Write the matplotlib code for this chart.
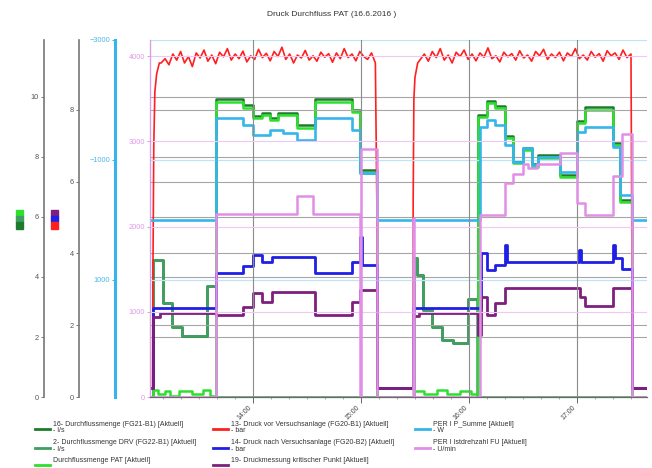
import numpy as np
import matplotlib
matplotlib.use("Agg")
import matplotlib.pyplot as plt
from matplotlib.lines import Line2D
from matplotlib.patches import Rectangle

plt.rcParams['font.family'] = ['Liberation Sans', 'DejaVu Sans']

# all times in minutes since midnight (16.6.2016)
# flow l/s
t_drv = [783.0, 784.4, 790.0, 795.0, 800.6, 814.4, 819.4, 929.5, 931.1, 934.4, 939.4,
         945.0, 951.1, 959.4, 964.4, 1058.9]
v_drv = [0.0, 4.57, 3.13, 2.33, 2.03, 3.70, 0.0, 4.63, 4.07, 2.90, 2.33,
         1.90, 1.80, 3.27, 0.0, 0.0]

t_pat = [783.0, 784.4, 787.0, 791.0, 794.0, 799.0, 806.0, 812.0, 816.0, 819.4, 834.4,
         840.0, 845.0, 849.4, 853.9, 864.4, 874.4, 895.0, 899.4, 908.9, 929.5, 935.0,
         942.0, 948.0, 955.0, 961.0, 965.0, 970.0, 974.4, 980.0, 984.4, 990.0, 995.0,
         998.3, 1010.6, 1020.0, 1024.4, 1040.0, 1043.9, 1050.6, 1058.9]
v_pat = [0.0, 0.25, 0.1, 0.2, 0.05, 0.2, 0.1, 0.25, 0.05, 9.83, 9.63,
         9.3, 9.4, 9.23, 9.4, 8.97, 9.83, 9.5, 7.47, 0.0, 0.2, 0.1,
         0.25, 0.1, 0.2, 0.1, 9.33, 9.8, 9.63, 8.63, 7.8, 8.23, 7.67,
         7.97, 7.33, 9.13, 9.57, 8.4, 6.5, 0.0, 0.0]

t_fg21 = [783.0, 784.4, 790.0, 795.0, 800.6, 814.4, 819.4, 834.4, 840.0, 845.0, 849.4,
          853.9, 864.4, 874.4, 895.0, 899.4, 908.9, 929.5, 931.1, 934.4, 939.4, 945.0,
          951.1, 959.4, 965.0, 970.0, 974.4, 980.0, 984.4, 990.0, 995.0, 998.3, 1010.6,
          1020.0, 1024.4, 1040.0, 1043.9, 1050.6, 1058.9]
v_fg21 = [0.0, 4.57, 3.13, 2.33, 2.03, 3.70, 9.92, 9.72, 9.38, 9.48, 9.31,
          9.48, 9.05, 9.92, 9.58, 7.55, 0.0, 4.63, 4.07, 2.90, 2.33, 1.90,
          1.80, 3.27, 9.41, 9.88, 9.71, 8.71, 7.88, 8.31, 7.75, 8.05, 7.41,
          9.21, 9.65, 8.48, 6.58, 0.0, 0.0]

# pressure bar
red_start_t = [783.0, 784.2, 784.5, 784.9, 785.5, 786.5, 788.0]
red_start_v = [0.25, 0.25, 4.0, 7.0, 8.5, 9.0, 9.3]
red_a = [9.30, 9.42, 9.25, 9.55, 9.38, 9.62, 9.30, 9.48, 9.20, 9.58, 9.44, 9.66, 9.35, 9.52,
         9.28, 9.60, 9.47, 9.70, 9.38, 9.55, 9.42, 9.63, 9.33, 9.50, 9.40, 9.68, 9.45, 9.57,
         9.36, 9.62, 9.48, 9.74, 9.40, 9.55, 9.30, 9.52, 9.44, 9.65, 9.38, 9.50, 9.35, 9.60,
         9.46, 9.56, 9.32, 9.58, 9.42, 9.70, 9.45, 9.55, 9.36, 9.62, 9.48, 9.40, 9.58, 9.30]
red_mid_t = [908.9, 909.3, 928.8, 929.0, 929.4, 930.0, 931.5]
red_mid_v = [5.0, 0.25, 0.25, 5.5, 8.3, 8.9, 9.3]
red_b = [9.40, 9.55, 9.35, 9.62, 9.45, 9.70, 9.38, 9.52, 9.30, 9.60, 9.48, 9.66, 9.40, 9.55,
         9.36, 9.58, 9.46, 9.72, 9.42, 9.50, 9.33, 9.60, 9.47, 9.56, 9.38, 9.64, 9.44, 9.52,
         9.35, 9.62, 9.50, 9.68, 9.40, 9.55, 9.45, 9.60, 9.36, 9.58, 9.48, 9.70, 9.42, 9.52,
         9.38, 9.62, 9.46, 9.56, 9.35, 9.64, 9.50, 9.58, 9.40, 9.66, 9.45, 9.55]
red_end_t = [1050.6, 1051.0, 1058.9]
red_end_v = [3.0, 0.22, 0.22]

t_blue = [783.0, 784.4, 819.4, 834.4, 840.0, 845.0, 850.6, 874.4, 895.0, 899.4, 900.3,
          908.9, 929.0, 966.5, 970.0, 974.4, 980.0, 981.0, 1021.0, 1022.0, 1040.0, 1041.0,
          1045.0, 1050.6, 1058.9]
v_blue = [0.25, 2.48, 3.45, 3.65, 3.96, 3.76, 3.90, 3.45, 3.76, 4.46, 3.68,
          0.25, 2.48, 4.01, 3.54, 3.68, 4.23, 3.76, 4.09, 3.76, 4.23, 3.87,
          3.57, 0.25, 0.25]

t_pur = [783.0, 784.4, 788.3, 819.4, 834.4, 840.0, 845.0, 850.6, 874.4, 895.0, 899.4,
         908.9, 929.0, 932.0, 965.0, 966.5, 970.0, 974.4, 980.0, 1021.7, 1024.4, 1040.0,
         1050.6, 1058.9]
v_pur = [0.25, 2.23, 2.34, 2.28, 2.51, 2.90, 2.65, 2.92, 2.28, 2.65, 2.98,
         0.25, 2.25, 2.34, 1.73, 2.79, 2.28, 2.62, 3.04, 2.79, 2.53, 3.04,
         0.25, 0.25]

# power W
t_w = [783.0, 819.4, 834.4, 840.0, 849.4, 856.7, 864.4, 874.4, 895.0, 899.4, 908.9,
       966.1, 970.0, 974.4, 980.0, 984.4, 990.0, 995.0, 998.3, 1010.6, 1020.0, 1024.4,
       1040.0, 1043.9, 1050.6, 1058.9]
v_w = [0, -1700, -1583, -1417, -1500, -1450, -1333, -1700, -1500, -783, 0,
       -1550, -1667, -1583, -1250, -967, -1200, -917, -1050, -800, -1467, -1550,
       -1217, -417, 0, 0]

# speed U/min
t_rpm = [783.0, 819.4, 864.4, 873.3, 899.6, 900.2, 908.9, 928.9, 929.6, 966.1, 980.0,
         984.4, 990.0, 992.8, 997.8, 1010.6, 1020.0, 1024.4, 1040.0, 1045.0, 1050.6, 1058.9]
v_rpm = [0, 2147, 2360, 2147, 0, 2910, 0, 2100, 0, 2135, 2510,
         2616, 2733, 2686, 2733, 2862, 2275, 2135, 2592, 3085, 0, 0]

hour_ticks = [14, 15, 16, 17]
hour_labels = ["14:00", "15:00", "16:00", "17:00"]

leg_labels = ["16- Durchflussmenge (FG21-B1) [Aktuell]",
              "2- Durchflussmenge DRV (FG22-B1) [Aktuell]",
              "Durchflussmenge PAT [Aktuell]",
              "13- Druck vor Versuchsanlage (FG20-B1) [Aktuell]",
              "14- Druck nach Versuchsanlage (FG20-B2) [Aktuell]",
              "19- Druckmessung kritischer Punkt [Aktuell]",
              "PER I P_Summe [Aktuell]",
              "PER I Istdrehzahl FU [Aktuell]"]
leg_units = ["- l/s", "- l/s", None, "- bar", "- bar", None, "- W", "- U/min"]

c_fg21 = '#1e7b2e'
c_drv = '#3f9f60'
c_pat = '#2ee02e'
c_red = '#ff1f1f'
c_blue = '#1f1fe6'
c_pur = '#7d1f7d'
c_cyan = '#35b5ea'
c_pink = '#e18ee6'
leg_colors = [c_fg21, c_drv, c_pat, c_red, c_blue, c_pur, c_cyan, c_pink]

W, H = 652, 468
fig = plt.figure(figsize=(W / 100, H / 100), dpi=100)
ax = fig.add_axes([150 / W, 1 - 397 / H, 497 / W, 357 / H])
ax_q = ax.twinx()
ax_p = ax.twinx()
ax_w = ax.twinx()


def hrs(t):
    return np.asarray(t) / 60.0


def left_axis(a, offset_px, color, lcolor, lw):
    for s in a.spines.values():
        s.set_visible(False)
    sp = a.spines['left']
    sp.set_visible(True)
    sp.set_position(('outward', offset_px * 0.72))
    sp.set_color(color)
    sp.set_linewidth(lw)
    a.yaxis.set_ticks_position('left')
    a.yaxis.set_label_position('left')
    a.tick_params(axis='y', direction='out', length=2.5, width=0.7, pad=1,
                  labelsize=5.3, color=color, labelcolor=lcolor)


# pink main axis
for s in ['top', 'right']:
    ax.spines[s].set_visible(False)
ax.spines['left'].set_color('#d9a0e4')
ax.spines['left'].set_linewidth(1.0)
ax.spines['bottom'].set_color('#6a6a6a')
ax.spines['bottom'].set_linewidth(0.9)
ax.set_ylim(0, 4188)
ax.set_yticks([0, 1000, 2000, 3000, 4000])
ax.tick_params(axis='y', direction='out', length=2.5, width=0.7, pad=1,
               labelsize=5.3, color='#d9a0e4', labelcolor='#e09ae8')
ax.grid(axis='y', color='#f0c8f4', lw=0.8)
ax.grid(axis='x', color='#8c8c8c', lw=0.8)
ax.set_xlim(782.8 / 60, 1058.9 / 60)
ax.set_xticks(hour_ticks)
ax.set_xticklabels(hour_labels, rotation=45, ha='right', fontsize=5, color='#444444')
ax.set_xticks(np.arange(13 + 1 / 6, 17.6, 1 / 6), minor=True)
ax.tick_params(axis='x', which='major', length=4, width=0.7, color='#666666', pad=1)
ax.tick_params(axis='x', which='minor', length=1.5, width=0.5, color='#888888')
ax.patch.set_visible(False)

left_axis(ax_q, 106, '#777777', '#555555', 1.2)
ax_q.set_ylim(0, 11.9)
ax_q.set_yticks([0, 2, 4, 6, 8, 10])
ax_q.grid(axis='y', color='#a6a6a6', lw=0.8)

left_axis(ax_p, 71, '#777777', '#555555', 1.2)
ax_p.set_ylim(0, 9.94)
ax_p.set_yticks([0, 2, 4, 6, 8])
ax_p.grid(axis='y', color='#a6a6a6', lw=0.8)

left_axis(ax_w, 35, c_cyan, '#4cb8e6', 2.2)
ax_w.set_ylim(2950, -3000)
ax_w.set_yticks([-3000, -1000, 1000])
ax_w.grid(axis='y', color='#bfe4f6', lw=0.9)

ax_q.set_zorder(1)
ax_p.set_zorder(2)
ax_w.set_zorder(3)
ax.set_zorder(4)

# flows
ax_q.plot(hrs(t_fg21), v_fg21, drawstyle='steps-post', color=c_fg21, lw=1.8)
ax_q.plot(hrs(t_drv), v_drv, drawstyle='steps-post', color=c_drv, lw=1.8)
ax_q.plot(hrs(t_pat), v_pat, drawstyle='steps-post', color=c_pat, lw=1.8)

# pressures
red_t = np.concatenate([red_start_t, np.linspace(789, 908, len(red_a)), red_mid_t,
                        np.linspace(933, 1050, len(red_b)), red_end_t])
red_v = np.concatenate([red_start_v, red_a, red_mid_v, red_b, red_end_v])
ax_p.plot(hrs(red_t), red_v, color=c_red, lw=1.2)
ax_p.plot(hrs(t_blue), v_blue, drawstyle='steps-post', color=c_blue, lw=2.0)
ax_p.plot(hrs(t_pur), v_pur, drawstyle='steps-post', color=c_pur, lw=2.0)

# power
ax_w.plot(hrs(t_w), v_w, drawstyle='steps-post', color=c_cyan, lw=1.9)

# speed
ax.plot(hrs(t_rpm), v_rpm, drawstyle='steps-post', color=c_pink, lw=1.8)

# title
fig.text(0.508, 1 - 15 / H, "Druck Durchfluss PAT (16.6.2016 )", ha='center', va='center',
         fontsize=6, color='#333333')

# axis colour keys
for i, c in enumerate([c_pat, c_drv, c_fg21]):
    fig.add_artist(Rectangle((16 / W, 1 - (216 + 6.3 * i) / H), 7 / W, 6.3 / H,
                             transform=fig.transFigure, color=c))
for i, c in enumerate([c_pur, c_blue, c_red]):
    fig.add_artist(Rectangle((51 / W, 1 - (216 + 6.3 * i) / H), 7 / W, 6.3 / H,
                             transform=fig.transFigure, color=c))

# legend
col_x = [35, 213, 415]
row_y = [424, 443, 460]
for i, (lab, unit, c) in enumerate(zip(leg_labels, leg_units, leg_colors)):
    col = 0 if i < 3 else (1 if i < 6 else 2)
    row = i if i < 3 else (i - 3 if i < 6 else i - 6)
    x0 = col_x[col]
    y0 = row_y[row]
    fig.add_artist(Line2D([x0 / W, (x0 + 15) / W], [1 - (y0 + 5) / H] * 2,
                          transform=fig.transFigure, color=c, lw=2))
    fig.text((x0 + 18) / W, 1 - y0 / H, lab, ha='left', va='center', fontsize=5,
             color='#333333')
    if unit:
        fig.text((x0 + 18) / W, 1 - (y0 + 6.5) / H, unit, ha='left', va='center',
                 fontsize=5, color='#333333')

fig.savefig("out.png", dpi=100, facecolor='white')
